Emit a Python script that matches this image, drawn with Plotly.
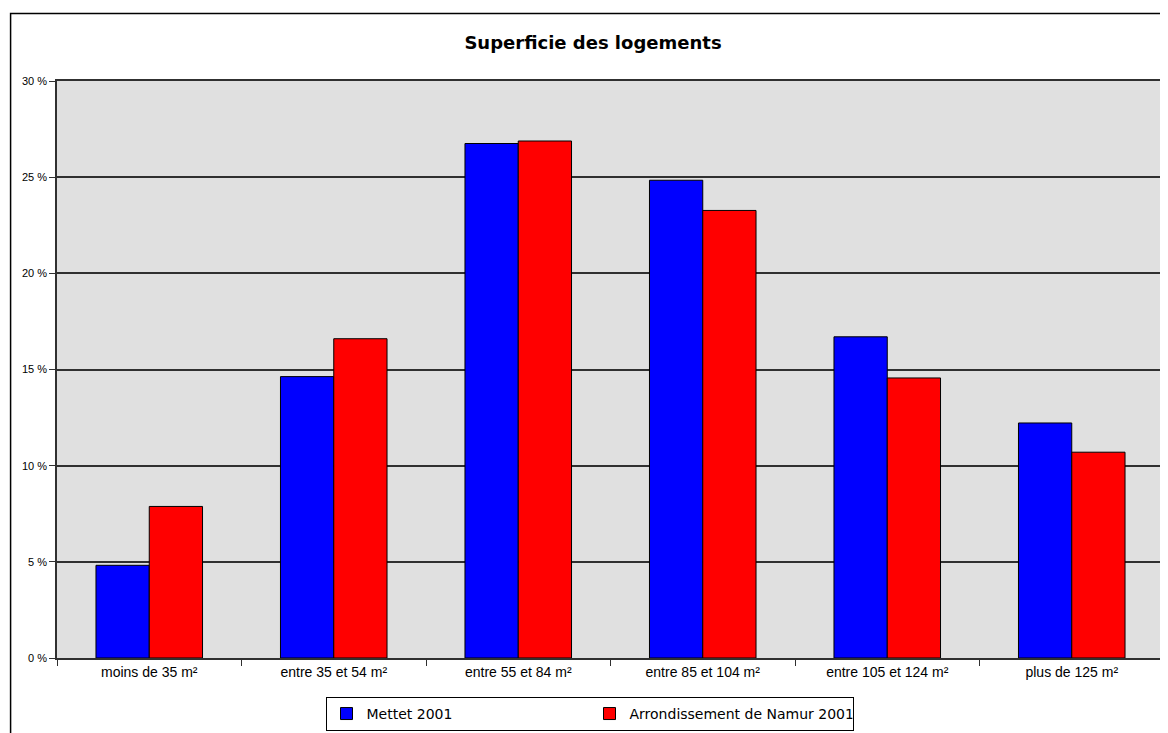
import plotly.graph_objects as go

categories = ["moins de 35 m²", "entre 35 et 54 m²", "entre 55 et 84 m²",
              "entre 85 et 104 m²", "entre 105 et 124 m²", "plus de 125 m²"]
mettet = [4.82, 14.63, 26.75, 24.84, 16.70, 12.22]
namur = [7.88, 16.60, 26.88, 23.27, 14.56, 10.70]
series_names = ["Mettet 2001", "Arrondissement de Namur 2001"]
ytick_vals = [0, 5, 10, 15, 20, 25, 30]
ytick_text = ["0 %", "5 %", "10 %", "15 %", "20 %", "25 %", "30 %"]

# page body adds an 8px margin; figure coordinates = screen coordinates - 8
OFF = 8
W, H = 1168 - OFF, 733 - OFF
L, R, T = 57 - OFF, 2, 81 - OFF
B = H - (659 - OFF)
pw, ph = W - L - R, H - T - B


def px_x(sx):
    return (sx - OFF - L) / pw


def px_y(sy):
    return ((H - B) - (sy - OFF)) / ph


fig = go.Figure()
fig.add_trace(go.Bar(x=categories, y=mettet, name=series_names[0],
                     marker=dict(color="#0000ff", line=dict(color="black", width=1))))
fig.add_trace(go.Bar(x=categories, y=namur, name=series_names[1],
                     marker=dict(color="#ff0000", line=dict(color="black", width=1))))

fig.update_layout(
    width=W, height=H,
    margin=dict(l=L, r=R, t=T, b=B, pad=0),
    paper_bgcolor="white",
    plot_bgcolor="#e0e0e0",
    barmode="group", bargap=0.4226, bargroupgap=0,
    title=dict(text="<b>Superficie des logements</b>", x=(593 - OFF) / W,
               y=1 - (43 - OFF) / H, xanchor="center", yanchor="middle",
               font=dict(family="DejaVu Sans", size=18, color="black")),
    font=dict(family="Liberation Sans", color="black"),
    showlegend=True,
    legend=dict(orientation="h", x=px_x(326), y=px_y(698),
                xanchor="left", yanchor="top",
                bordercolor="black", borderwidth=1, bgcolor="white",
                font=dict(family="DejaVu Sans", size=14, color="black"),
                entrywidth=218, entrywidthmode="pixels", itemwidth=30),
    xaxis=dict(showgrid=False, showline=True, linecolor="#303030", linewidth=1.5,
               mirror=True, ticks="outside", tickson="boundaries", ticklen=6,
               tickcolor="#303030", tickfont=dict(family="Liberation Sans", size=14),
               fixedrange=True),
    yaxis=dict(range=[0, 30], tickvals=ytick_vals, ticktext=ytick_text,
               showgrid=True, gridcolor="#303030", gridwidth=1.5,
               showline=True, linecolor="#303030", linewidth=1.5, mirror=True,
               ticks="outside", ticklen=6, tickcolor="#303030",
               tickfont=dict(family="Liberation Sans", size=11),
               zeroline=False, fixedrange=True),
    shapes=[dict(type="rect", xref="paper", yref="paper",
                 x0=px_x(10.5), x1=1.05, y0=-0.3, y1=px_y(13.5),
                 line=dict(color="black", width=1.5), fillcolor="rgba(0,0,0,0)",
                 layer="below")],
)

fig.write_html("out.html")
